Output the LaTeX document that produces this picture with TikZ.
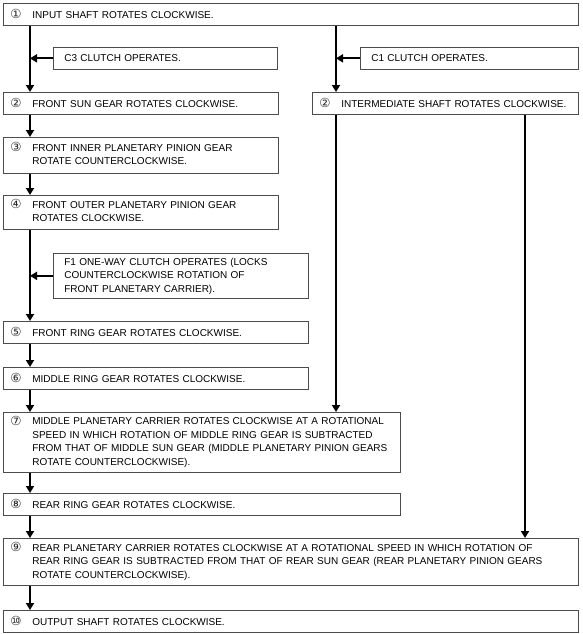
\documentclass[tikz,border=0pt]{standalone}
\usepackage{fontspec}
\setmainfont{Liberation Sans}
\newfontfamily\dejavu{DejaVu Sans}
\usetikzlibrary{arrows.meta}
\definecolor{boxgray}{gray}{0.3}
\newcommand\cn[1]{\makebox[21pt][l]{\hspace{-1pt}\raisebox{-0.6pt}{\dejavu\fontsize{12.5}{12.5}\selectfont\color{black!85}#1}}}
\newcommand\lines[1]{\begin{tabular}[t]{@{}l@{}}#1\end{tabular}}
\tikzset{
  box/.style={draw=boxgray, line width=0.7pt, anchor=north west, inner xsep=8pt, inner ysep=0pt,
    align=left, font=\fontsize{10}{13.5}\selectfont, text=black},
  sbox/.style={box, inner xsep=11pt},
  arr/.style={line width=1.8pt, -{Triangle[length=7pt,width=8pt]}},
}
\begin{document}
\begin{tikzpicture}[x=1pt,y=-1pt]
\useasboundingbox (0,0) rectangle (582,634);
\coordinate (L) at (30,0);
\coordinate (M) at (336,0);
\coordinate (R) at (525,0);
% boxes
\node[box, text width=559pt, minimum height=22pt] (n1) at (3,3) {\cn{①}INPUT SHAFT ROTATES CLOCKWISE.};
\node[sbox, text width=202pt, minimum height=22pt] (c3) at (53,47) {C3 CLUTCH OPERATES.};
\node[sbox, text width=196pt, minimum height=22pt] (c1) at (360,47) {C1 CLUTCH OPERATES.};
\node[box, text width=259pt, minimum height=22pt] (n2) at (3,92) {\cn{②}FRONT SUN GEAR ROTATES CLOCKWISE.};
\node[box, text width=250pt, minimum height=22pt] (i2) at (312,92) {\cn{②}INTERMEDIATE SHAFT ROTATES CLOCKWISE.};
\node[box, text width=259pt, minimum height=36pt] (n3) at (3,137) {\cn{③}\lines{FRONT INNER PLANETARY PINION GEAR\\ROTATE COUNTERCLOCKWISE.}};
\node[box, text width=259pt, minimum height=34pt] (n4) at (3,195) {\cn{④}\lines{FRONT OUTER PLANETARY PINION GEAR\\ROTATES CLOCKWISE.}};
\node[sbox, text width=233pt, minimum height=45pt] (f1) at (53,253) {\lines{F1 ONE-WAY CLUTCH OPERATES (LOCKS\\COUNTERCLOCKWISE ROTATION OF\\FRONT PLANETARY CARRIER).}};
\node[box, text width=289pt, minimum height=22pt] (n5) at (3,321) {\cn{⑤}FRONT RING GEAR ROTATES CLOCKWISE.};
\node[box, text width=289pt, minimum height=22pt] (n6) at (3,367) {\cn{⑥}MIDDLE RING GEAR ROTATES CLOCKWISE.};
\node[box, text width=381pt, minimum height=60pt] (n7) at (3,412) {\cn{⑦}\lines{MIDDLE PLANETARY CARRIER ROTATES CLOCKWISE AT A ROTATIONAL\\SPEED IN WHICH ROTATION OF MIDDLE RING GEAR IS SUBTRACTED\\FROM THAT OF MIDDLE SUN GEAR (MIDDLE PLANETARY PINION GEARS\\ROTATE COUNTERCLOCKWISE).}};
\node[box, text width=381pt, minimum height=22pt] (n8) at (3,493) {\cn{⑧}REAR RING GEAR ROTATES CLOCKWISE.};
\node[box, text width=559pt, minimum height=47pt] (n9) at (3,538) {\cn{⑨}\lines{REAR PLANETARY CARRIER ROTATES CLOCKWISE AT A ROTATIONAL SPEED IN WHICH ROTATION OF\\REAR RING GEAR IS SUBTRACTED FROM THAT OF REAR SUN GEAR (REAR PLANETARY PINION GEARS\\ROTATE COUNTERCLOCKWISE).}};
\node[box, text width=559pt, minimum height=22pt] (n10) at (3,610) {\cn{⑩}OUTPUT SHAFT ROTATES CLOCKWISE.};
% connectors
\draw[arr] (n1.south -| L) -- (n2.north -| L);
\draw[arr] (c3.west) -- (c3.west -| L);
\draw[arr] (n1.south -| M) -- (i2.north -| M);
\draw[arr] (c1.west) -- (c1.west -| M);
\draw[arr] (n2.south -| L) -- (n3.north -| L);
\draw[arr] (n3.south -| L) -- (n4.north -| L);
\draw[arr] (n4.south -| L) -- (n5.north -| L);
\draw[arr] (f1.west) -- (f1.west -| L);
\draw[arr] (n5.south -| L) -- (n6.north -| L);
\draw[arr] (n6.south -| L) -- (n7.north -| L);
\draw[arr] (n7.south -| L) -- (n8.north -| L);
\draw[arr] (n8.south -| L) -- (n9.north -| L);
\draw[arr] (n9.south -| L) -- (n10.north -| L);
\draw[arr] (i2.south -| M) -- (n7.north -| M);
\draw[arr] (i2.south -| R) -- (n9.north -| R);
\end{tikzpicture}
\end{document}
